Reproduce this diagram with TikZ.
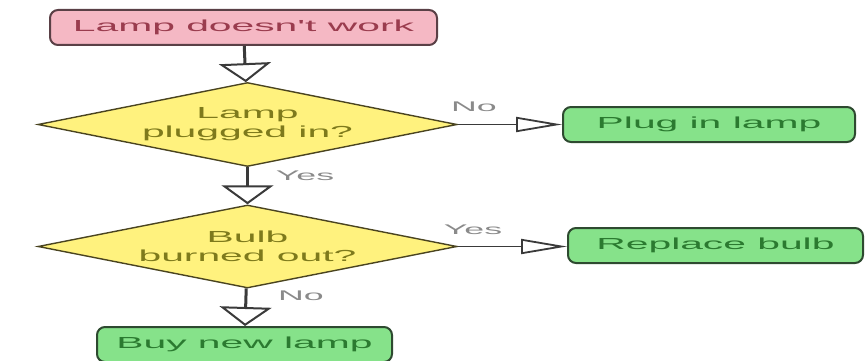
\documentclass[tikz,border=0pt]{standalone}
\usepackage{fontspec}
\setmainfont{Liberation Sans}
\newfontfamily\widefont[FakeStretch=2.55]{Liberation Sans}
\usetikzlibrary{shapes.geometric,arrows.meta}
\definecolor{pinkfill}{HTML}{F5B8C4}
\definecolor{pinkline}{HTML}{5A4046}
\definecolor{pinktext}{HTML}{9A3C4E}
\definecolor{yelfill}{HTML}{FFF27E}
\definecolor{yelline}{HTML}{4A4420}
\definecolor{yeltext}{HTML}{7E7A1C}
\definecolor{grnfill}{HTML}{86E28A}
\definecolor{grnline}{HTML}{2E4A30}
\definecolor{grntext}{HTML}{2B7A30}
\definecolor{lblgray}{HTML}{8A8A8A}
\definecolor{conn}{HTML}{3A3A3A}
\tikzset{
  startbox/.style={draw=pinkline, fill=pinkfill, text=pinktext, line width=2pt, rounded corners=8pt,
    minimum width=387pt, minimum height=35pt, inner sep=0pt, font=\widefont\fontsize{16}{18}\selectfont},
  endbox/.style={draw=grnline, fill=grnfill, text=grntext, line width=2pt, rounded corners=8pt,
    minimum height=35pt, inner sep=0pt, font=\widefont\fontsize{16}{18}\selectfont},
  decision/.style={diamond, shape aspect=4.99, draw=yelline, fill=yelfill, text=yeltext, line width=1.4pt,
    minimum width=419pt, minimum height=84pt, inner sep=0pt, align=center,
    font=\widefont\fontsize{16}{19}\selectfont},
  lbl/.style={text=lblgray, inner sep=0pt, font=\widefont\fontsize{14}{16}\selectfont},
  vconn/.style={draw=conn, line width=3pt, -{Triangle[open, length=19pt, width=52pt, line width=2pt]}},
  hconn/.style={draw=conn, line width=1.5pt, -{Triangle[open, length=46pt, width=15pt, line width=1.8pt]}},
}
\begin{document}
\begin{tikzpicture}[x=1pt, y=-1pt]
\useasboundingbox (0,0) rectangle (865,361);
\node[startbox] (start) at (243.5,27.5) {Lamp doesn't work};
\node[decision] (d1) at (247.5,124.5) {Lamp\\plugged in?};
\node[decision, minimum height=83pt] (d2) at (247.5,246.5) {Bulb\\burned out?};
\node[endbox, minimum width=292pt] (plug) at (709,124.5) {Plug in lamp};
\node[endbox, minimum width=295pt] (repl) at (715.5,245.5) {Replace bulb};
\node[endbox, minimum width=295pt] (buy) at (244.5,344.5) {Buy new lamp};
\draw[vconn] (start) -- (d1);
\draw[vconn] (d1) -- (d2);
\draw[vconn] (d2) -- (buy);
\draw[hconn] (d1) -- (plug);
\draw[hconn] (d2.east) -- (d2.east -| repl.west);
\node[lbl] (lno1) at (474,107) {No};
\node[lbl] (lyes1) at (305,176) {Yes};
\node[lbl] (lyes2) at (473,230) {Yes};
\node[lbl] (lno2) at (301,296) {No};
\end{tikzpicture}
\end{document}
